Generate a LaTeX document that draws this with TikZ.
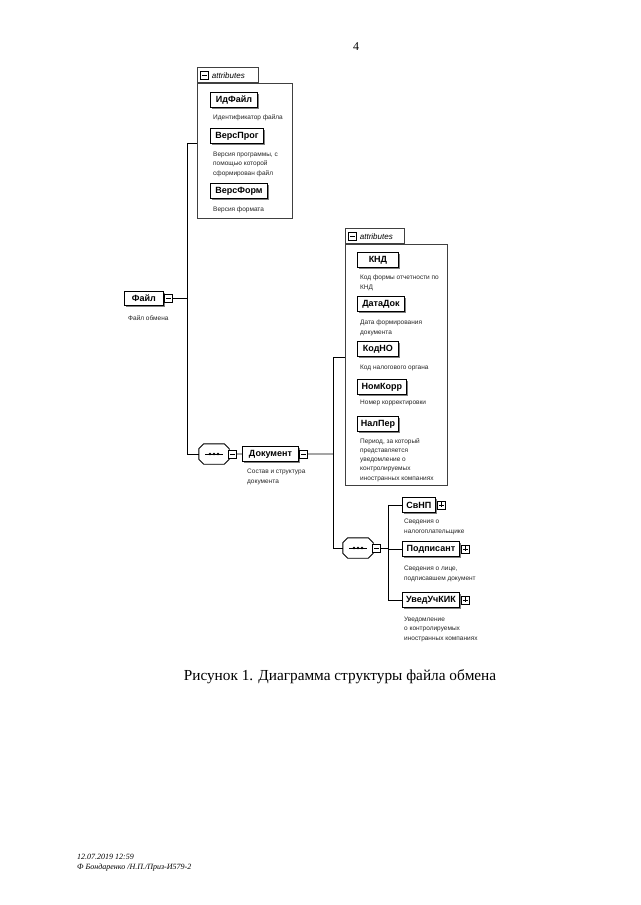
\documentclass[tikz,border=0pt]{standalone}
\usepackage{fontspec}
\setmainfont{Liberation Serif}
\setsansfont{Liberation Sans}
\usetikzlibrary{shadows}
\newcommand\octoshape[1]{%
  ([xshift=5pt]#1.north west) -- ([xshift=-5pt]#1.north east) -- ([yshift=-5pt]#1.north east) --
  ([yshift=5pt]#1.south east) -- ([xshift=-5pt]#1.south east) -- ([xshift=5pt]#1.south west) --
  ([yshift=5pt]#1.south west) -- ([yshift=-5pt]#1.north west) -- cycle}
\newcommand\seqdraw[1]{%
  \fill[black!45,shift={(2,2)}] \octoshape{#1};
  \draw[line width=0.9pt,fill=white] \octoshape{#1};
  \draw[line width=0.8pt] ([xshift=-9pt]#1.center) -- ([xshift=9pt]#1.center);
  \fill ([xshift=-4pt]#1.center) circle (1.3pt) (#1.center) circle (1.3pt) ([xshift=4pt]#1.center) circle (1.3pt);}
\begin{document}
\begin{tikzpicture}[x=1pt,y=-1pt,
  elbox/.style={draw=black, line width=0.9pt, fill=white, anchor=north west, inner sep=1pt,
    minimum height=15pt, font=\sffamily\bfseries\fontsize{9}{10}\selectfont,
    drop shadow={shadow xshift=2pt, shadow yshift=-2pt, fill=black!50, opacity=1}},
  sq/.style={draw, line width=0.7pt, fill=white, minimum size=8pt, inner sep=0pt, anchor=west},
  minussq/.style={sq, path picture={\draw[line width=0.7pt] ([xshift=1.5pt]path picture bounding box.west) -- ([xshift=-1.5pt]path picture bounding box.east);}},
  plussq/.style={sq, path picture={\draw[line width=0.7pt] ([xshift=1.5pt]path picture bounding box.west) -- ([xshift=-1.5pt]path picture bounding box.east)
      ([yshift=-1.5pt]path picture bounding box.north) -- ([yshift=1.5pt]path picture bounding box.south);}},
  desc/.style={anchor=north west, align=left, inner sep=0pt, text=black!85,
    font=\sffamily\fontsize{6.5}{9.3}\selectfont},
  attrbox/.style={draw=black!75, line width=0.7pt, anchor=north west, inner sep=0pt},
  tabbox/.style={draw=black!75, line width=0.7pt, anchor=south west, inner sep=0pt},
  tabtext/.style={anchor=west, inner sep=0pt, font=\sffamily\itshape\fontsize{8}{9}\selectfont},
  seqnode/.style={minimum width=30pt, minimum height=20pt, inner sep=0pt},
  conn/.style={line width=0.9pt}
]
\fill[white] (0,0) rectangle (640,905);
\useasboundingbox (0,0) rectangle (640,905);

% page number
\node[font=\fontsize{12}{14}\selectfont] (pnum) at (356,47) {4};

% ---------- attributes of Файл ----------
\node[attrbox, minimum width=95pt, minimum height=135pt] (attr1) at (197,83) {};
\node[tabbox, minimum width=61pt, minimum height=15pt] (tab1) at (attr1.north west) {};
\node[minussq] (tab1m) at ([xshift=3pt]tab1.west) {};
\node[tabtext] (tab1t) at ([xshift=3pt]tab1m.east) {attributes};

\node[elbox, minimum width=47pt] (idf) at (210,92) {ИдФайл};
\node[desc] (idfd) at (213,114) {Идентификатор файла};
\node[elbox, minimum width=53pt] (vprog) at (210,128) {ВерсПрог};
\node[desc] (vprogd) at (213,152) {Версия программы, с\\помощью которой\\сформирован файл};
\node[elbox, minimum width=57pt] (vform) at (210,183) {ВерсФорм};
\node[desc] (vformd) at (213,207) {Версия формата};

% ---------- root ----------
\node[elbox, minimum width=39pt, minimum height=14pt] (file) at (124,291) {Файл};
\node[minussq] (filem) at (file.east) {};
\node[desc] (filed) at (128,315) {Файл обмена};

% ---------- sequence 1 and Документ ----------
\node[seqnode] (seq1) at (214,454) {};
\seqdraw{seq1}
\node[minussq] (seq1m) at ([xshift=-1pt]seq1.east) {};

\node[elbox, minimum width=56pt] (doc) at (242,446) {Документ};
\node[minussq] (docm) at (doc.east) {};
\node[desc] (docd) at (247,469) {Состав и структура\\документа};

\coordinate (b1) at (187,143);
\draw[conn] (filem.east) -| (b1) -- (b1 -| attr1.west);
\draw[conn] (filem.east) -| (b1 |- seq1.west) -- (seq1.west);
\draw[conn] (seq1m.east) -- (doc.west);

% ---------- attributes of Документ ----------
\node[attrbox, minimum width=102pt, minimum height=241pt] (attr2) at (345,244) {};
\node[tabbox, minimum width=59pt, minimum height=15pt] (tab2) at (attr2.north west) {};
\node[minussq] (tab2m) at ([xshift=3pt]tab2.west) {};
\node[tabtext] (tab2t) at ([xshift=3pt]tab2m.east) {attributes};

\node[elbox, minimum width=41pt] (knd) at (357,252) {КНД};
\node[desc] (kndd) at (360,275) {Код формы отчетности по\\КНД};
\node[elbox, minimum width=47pt] (datadok) at (357,296) {ДатаДок};
\node[desc] (datadokd) at (360,320) {Дата формирования\\документа};
\node[elbox, minimum width=41pt] (kodno) at (357,341) {КодНО};
\node[desc] (kodnod) at (360,365) {Код налогового органа};
\node[elbox, minimum width=49pt] (nomkorr) at (357,379) {НомКорр};
\node[desc] (nomkorrd) at (360,400) {Номер корректировки};
\node[elbox, minimum width=41pt] (nalper) at (357,416) {НалПер};
\node[desc] (nalperd) at (360,438) {Период, за который\\представляется\\уведомление о\\контролируемых\\иностранных компаниях};

% ---------- sequence 2 ----------
\node[seqnode] (seq2) at (358,548) {};
\seqdraw{seq2}
\node[minussq] (seq2m) at ([xshift=-1pt]seq2.east) {};

\coordinate (b2) at (333,454);
\draw[conn] (docm.east) -- (b2);
\draw[conn] (b2) |- (attr2.west |- 0,357);
\draw[conn] (b2) |- (seq2.west);

\node[elbox, minimum width=33pt] (svnp) at (402,497) {СвНП};
\node[plussq] (svnpp) at ([xshift=1pt]svnp.east) {};
\node[desc] (svnpd) at (404,519) {Сведения о\\налогоплательщике};
\node[elbox, minimum width=57pt] (podp) at (402,541) {Подписант};
\node[plussq] (podpp) at ([xshift=1pt]podp.east) {};
\node[desc] (podpd) at (404,566) {Сведения о лице,\\подписавшем документ};
\node[elbox, minimum width=57pt] (uved) at (402,592) {УведУчКИК};
\node[plussq] (uvedp) at ([xshift=1pt]uved.east) {};
\node[desc] (uvedd) at (404,617) {Уведомление\\о контролируемых\\иностранных компаниях};

\coordinate (b3) at (388,548);
\draw[conn] (seq2m.east) -- (b3);
\draw[conn] (b3 |- svnp.west) -- (b3 |- uved.west);
\draw[conn] (b3 |- svnp.west) -- (svnp.west);
\draw[conn] (b3 |- podp.west) -- (podp.west);
\draw[conn] (b3 |- uved.west) -- (uved.west);

% ---------- caption and footer ----------
\node[font=\fontsize{15.3}{17}\selectfont] (cap) at (340,677) {Рисунок 1. Диаграмма структуры файла обмена};
\node[anchor=north west, align=left, inner sep=0pt, font=\itshape\fontsize{8}{10}\selectfont] (foot) at (77,854)
  {12.07.2019 12:59\\Ф Бондаренко /Н.П./Приз-И579-2};
\end{tikzpicture}
\end{document}
